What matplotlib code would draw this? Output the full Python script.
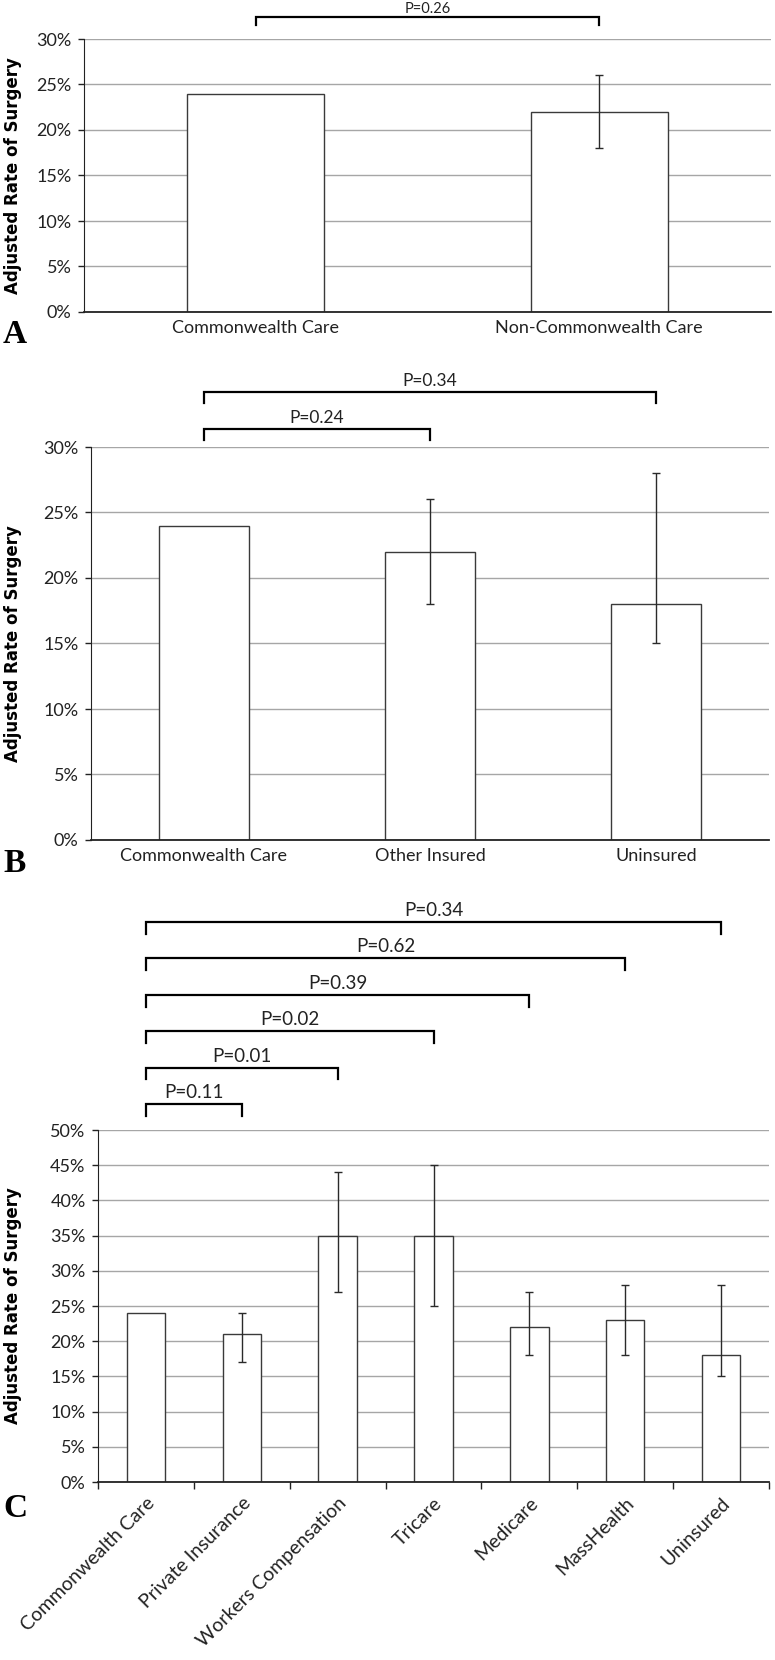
import numpy as np
import matplotlib
matplotlib.use("Agg")
import matplotlib.pyplot as plt
from matplotlib.transforms import blended_transform_factory
from matplotlib.ticker import FuncFormatter

# ---------------- data ----------------
a_categories = ["Commonwealth Care", "Non-Commonwealth Care"]
a_rates = [24, 22]
a_ci_low = [np.nan, 18]
a_ci_high = [np.nan, 26]
a_pairs = [(0, 1)]
a_pvalues = ["P=0.26"]

b_categories = ["Commonwealth Care", "Other Insured", "Uninsured"]
b_rates = [24, 22, 18]
b_ci_low = [np.nan, 18, 15]
b_ci_high = [np.nan, 26, 28]
b_pairs = [(0, 1), (0, 2)]
b_pvalues = ["P=0.24", "P=0.34"]

c_categories = ["Commonwealth Care", "Private Insurance", "Workers Compensation",
                "Tricare", "Medicare", "MassHealth", "Uninsured"]
c_rates = [24, 21, 35, 35, 22, 23, 18]
c_ci_low = [np.nan, 17, 27, 25, 18, 18, 15]
c_ci_high = [np.nan, 24, 44, 45, 27, 28, 28]
c_pairs = [(0, 1), (0, 2), (0, 3), (0, 4), (0, 5), (0, 6)]
c_pvalues = ["P=0.11", "P=0.01", "P=0.02", "P=0.39", "P=0.62", "P=0.34"]

# ---------------- layout ----------------
W, H = 775, 1660
fig = plt.figure(figsize=(W / 100, H / 100), dpi=100)

TICK_FONT = ["Lato", "DejaVu Sans"]
GRID = "#a6a6a6"
EDGE = "#3a3a3a"


def px_axes(left, right, top, bottom):
    return fig.add_axes([left / W, 1 - bottom / H, (right - left) / W, (bottom - top) / H])


def panel(ax, cats, rates, lo, hi, ymax, pairs, pvals, levels, tip, toff, psize,
          rotated=False, xfs=13):
    n = len(cats)
    x = np.arange(n)
    ax.bar(x, rates, width=0.4, color="white", edgecolor=EDGE, linewidth=1.0, zorder=2)
    rates_a = np.asarray(rates, float)
    lo_a = np.asarray(lo, float)
    hi_a = np.asarray(hi, float)
    m = ~np.isnan(lo_a)
    ax.errorbar(x[m], rates_a[m], yerr=[rates_a[m] - lo_a[m], hi_a[m] - rates_a[m]],
                fmt="none", ecolor="#2a2a2a", elinewidth=1.0, capsize=3, capthick=1.0, zorder=3)
    ax.set_xlim(-0.5, n - 0.5)
    ax.set_ylim(0, ymax)
    ax.set_yticks(np.arange(0, ymax + 1, 5))
    ax.yaxis.set_major_formatter(FuncFormatter(lambda v, p: f"{int(v)}%"))
    ax.yaxis.grid(True, color=GRID, linewidth=1.0)
    ax.set_axisbelow(True)
    for s in ("top", "right"):
        ax.spines[s].set_visible(False)
    ax.spines["left"].set_color("#222222")
    ax.spines["bottom"].set_color("#222222")
    ax.spines["bottom"].set_linewidth(1.3)
    ax.tick_params(axis="y", length=4, width=1, color="#222222", pad=5,
                   labelsize=13, labelcolor="#222222")
    ax.set_xticks(x)
    if rotated:
        ax.set_xticklabels(cats, rotation=45, ha="right", va="top",
                           rotation_mode="anchor", fontsize=xfs, color="#222222",
                           family=TICK_FONT)
        ax.set_xticks(np.arange(n + 1) - 0.5, minor=True)
        ax.tick_params(axis="x", which="major", length=0, pad=9)
        ax.tick_params(axis="x", which="minor", length=5, width=1, color="#222222")
    else:
        ax.set_xticklabels(cats, fontsize=xfs, color="#222222", family=TICK_FONT)
        ax.tick_params(axis="x", length=0, pad=6)
    for lab in ax.get_yticklabels():
        lab.set_family(TICK_FONT)
    tr = blended_transform_factory(ax.transData, ax.transAxes)
    for (i, j), p, lv in zip(pairs, pvals, levels):
        ax.plot([i, i, j, j], [lv - tip, lv, lv, lv - tip], transform=tr,
                clip_on=False, color="black", linewidth=1.6, solid_joinstyle="miter")
        ax.text((i + j) / 2, lv + toff, p, transform=tr, ha="center", va="center",
                fontsize=psize, color="#222222", family=TICK_FONT)


# Panel A
axA = px_axes(84, 771, 39, 312)
panel(axA, a_categories, a_rates, a_ci_low, a_ci_high, 30, a_pairs, a_pvalues,
      [1.0795], 0.028, 0.030, 10.5, xfs=13)

# Panel B
axB = px_axes(91, 769, 447, 840)
panel(axB, b_categories, b_rates, b_ci_low, b_ci_high, 30, b_pairs, b_pvalues,
      [1.0458, 1.140], 0.028, 0.027, 12.5, xfs=13)

# Panel C
axC = px_axes(98, 769, 1130, 1482)
c_levels = [1.074 + k * 0.1035 for k in range(len(c_pairs))]
panel(axC, c_categories, c_rates, c_ci_low, c_ci_high, 50, c_pairs, c_pvalues,
      c_levels, 0.034, 0.032, 13.5, rotated=True, xfs=14)

# y labels
for top, bot in ((39, 312), (447, 840), (1130, 1482)):
    fig.text(13 / W, 1 - (top + bot) / 2 / H, "Adjusted Rate of Surgery", rotation=90,
             ha="center", va="center", fontsize=12, fontweight="bold",
             family=["DejaVu Sans"], color="black")

# panel letters
for letter, base in (("A", 343), ("B", 872), ("C", 1517)):
    fig.text(3 / W, 1 - base / H, letter, ha="left", va="baseline", fontsize=24,
             fontweight="bold", family=["Liberation Serif", "DejaVu Serif"], color="black")

fig.savefig("out.png", dpi=100, facecolor="white")
